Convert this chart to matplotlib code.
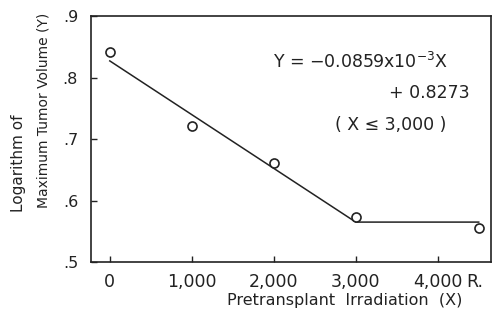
import matplotlib
matplotlib.use("Agg")
import matplotlib.pyplot as plt

# measured points (X = pretransplant irradiation, Y = log max tumor volume)
dose = [0, 1000, 2000, 3000, 4500]
log_vol = [0.842, 0.722, 0.661, 0.574, 0.556]

# fitted broken line vertices
fit_x = [0, 3000, 4500]
fit_y = [0.827, 0.565, 0.565]

yticks = [0.5, 0.6, 0.7, 0.8, 0.9]
ytick_labels = [".5", ".6", ".7", ".8", ".9"]
xticks = [0, 1000, 2000, 3000, 4000]
xtick_labels = ["0", "1,000", "2,000", "3,000", "4,000"]

plt.rcParams["font.family"] = "DejaVu Sans"
ink = "#222222"

fig = plt.figure(figsize=(4.92, 3.2), dpi=100)
ax = fig.add_axes([0.184, 0.181, 0.814, 0.769])

ax.plot(fit_x, fit_y, color=ink, lw=1.1)
ax.plot(dose, log_vol, "o", mfc="white", mec=ink, mew=1.2, ms=6.5)

ax.set_xlim(-235, 4650)
ax.set_ylim(0.5, 0.9)
ax.set_xticks(xticks)
ax.set_xticklabels(xtick_labels)
ax.set_yticks(yticks)
ax.set_yticklabels(ytick_labels)
ax.tick_params(direction="in", length=4, width=1, colors=ink)
ax.tick_params(axis="y", pad=9, labelsize=11.5)
ax.tick_params(axis="x", pad=8, labelsize=12.5)
for s in ax.spines.values():
    s.set_linewidth(1.2)
    s.set_color(ink)

# unit after the last tick label
ax.annotate("R.", xy=(4354, 0), xycoords=ax.get_xaxis_transform(),
            xytext=(0, -8), textcoords="offset points", fontsize=12.5,
            color=ink, ha="left", va="top")

ax.text(1990, 0.825, "Y = \u22120.0859x10$^{-3}$X", fontsize=12.5, color=ink,
        va="center")
ax.text(4390, 0.775, "+ 0.8273", fontsize=12.5, color=ink, ha="right",
        va="center")
ax.text(3430, 0.723, "( X \u2264 3,000 )", fontsize=12.5, color=ink,
        ha="center", va="center")

fig.text(0.037, 0.49, "Logarithm of", rotation=90, fontsize=11, color=ink,
         ha="center", va="center")
fig.text(0.089, 0.655, "Maximum Tumor Volume (Y)", rotation=90, fontsize=10,
         color=ink, ha="center", va="center")
fig.text(0.701, 0.062, "Pretransplant  Irradiation  (X)", fontsize=11.5,
         color=ink, ha="center", va="center")

fig.savefig("out.png", dpi=100)
